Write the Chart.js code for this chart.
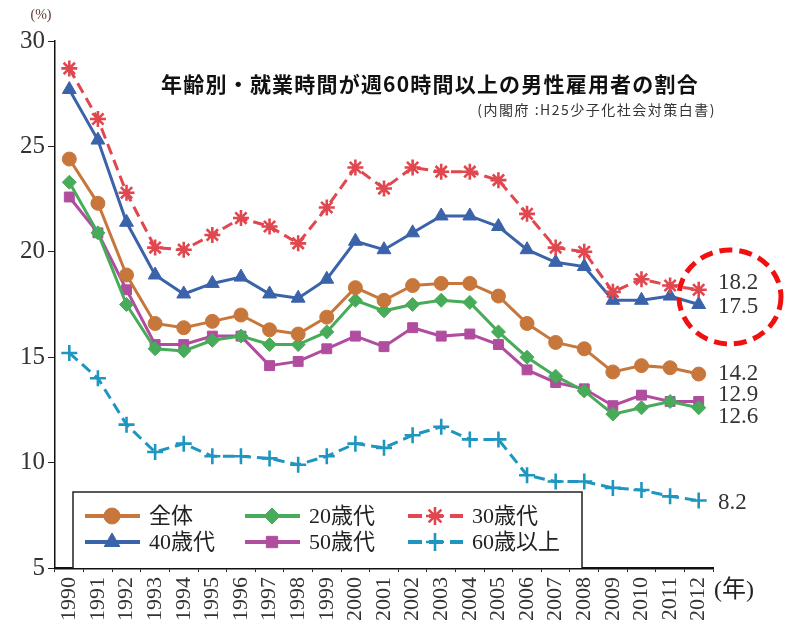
<!DOCTYPE html>
<html>
<head>
<meta charset="utf-8">
<script src="https://cdn.jsdelivr.net/npm/chart.js@4.4.0/dist/chart.umd.min.js"></script>
<style>
  html, body { margin: 0; padding: 0; background: #fff; }
  #wrap { width: 789px; height: 629px; }
</style>
</head>
<body>
<div id="wrap"><canvas id="chart" width="789" height="629"></canvas></div>
<script>
const years = ['1990','1991','1992','1993','1994','1995','1996','1997','1998','1999','2000','2001',
  '2002','2003','2004','2005','2006','2007','2008','2009','2010','2011','2012'];

const zentai = [24.4,22.3,18.9,16.6,16.4,16.7,17.0,16.3,16.1,16.9,18.3,17.7,18.4,18.5,18.5,17.9,16.6,15.7,15.4,14.3,14.6,14.5,14.2];
const age20 = [23.3,20.9,17.5,15.4,15.3,15.8,16.0,15.6,15.6,16.2,17.7,17.2,17.5,17.7,17.6,16.2,15.0,14.1,13.4,12.3,12.6,12.9,12.6];
const age30 = [28.7,26.3,22.8,20.2,20.1,20.8,21.6,21.2,20.4,22.1,24.0,23.0,24.0,23.8,23.8,23.4,21.8,20.2,20.0,18.1,18.7,18.4,18.2];
const age40 = [27.7,25.3,21.4,18.9,18.0,18.5,18.8,18.0,17.8,18.7,20.5,20.1,20.9,21.7,21.7,21.2,20.1,19.5,19.3,17.7,17.7,17.9,17.5];
const age50 = [22.6,20.9,18.2,15.6,15.6,16.0,16.0,14.6,14.8,15.4,16.0,15.5,16.4,16.0,16.1,15.6,14.4,13.8,13.5,12.7,13.2,12.9,12.9];
const age60 = [15.2,14.0,11.8,10.5,10.9,10.3,10.3,10.2,9.9,10.3,10.9,10.7,11.3,11.7,11.1,11.1,9.4,9.1,9.1,8.8,8.7,8.4,8.2];

const seriesNames = ['全体','20歳代','30歳代','40歳代','50歳代','60歳以上'];
const endLabels = ['18.2','17.5','14.2','12.9','12.6','8.2'];
const endLabelValues = [18.5,17.4,14.2,13.2,12.15,8.1];

const titleText = '年齢別・就業時間が週60時間以上の男性雇用者の割合';
const sourceText = '(内閣府 :H25少子化社会対策白書)';

const SERIF = '"Liberation Serif", "DejaVu Serif", "Noto Sans CJK JP", serif';
const SANS = '"Noto Sans CJK JP", sans-serif';

function ds(label, data, color, style, radius, dashed) {
  return {
    label: label,
    data: data,
    borderColor: color,
    backgroundColor: color,
    borderWidth: 3,
    borderDash: dashed ? [11, 6] : [],
    pointStyle: style,
    pointRadius: radius,
    pointBorderWidth: (style === 'star' || style === 'cross') ? 2.6 : 1,
    pointBorderColor: color,
    pointBackgroundColor: color,
    tension: 0
  };
}

const datasets = [
  ds(seriesNames[0], zentai, '#c8773c', 'circle', 7, false),
  ds(seriesNames[1], age20, '#48ab5a', 'rectRot', 7, false),
  ds(seriesNames[2], age30, '#e0474e', 'star', 8, true),
  ds(seriesNames[3], age40, '#3b63a9', 'triangle', 8, false),
  ds(seriesNames[4], age50, '#b04d9f', 'rect', 7, false),
  ds(seriesNames[5], age60, '#1e96bf', 'cross', 8, true)
];

// titles, legend box, end labels, circle
const decor = {
  id: 'decor',
  afterDraw(chart) {
    const ctx = chart.ctx;
    const y = chart.scales.y;
    ctx.save();

    ctx.fillStyle = '#111';
    ctx.font = '600 21px ' + SANS;
    ctx.letterSpacing = '1.2px';
    ctx.textAlign = 'center';
    ctx.textBaseline = 'middle';
    ctx.fillText(titleText, 430, 84);

    ctx.font = '14px ' + SANS;
    ctx.letterSpacing = '1.5px';
    ctx.textAlign = 'right';
    ctx.fillStyle = '#333';
    ctx.fillText(sourceText, 716, 110);
    ctx.letterSpacing = '0px';

    ctx.font = '14px ' + SERIF;
    ctx.textAlign = 'center';
    ctx.fillStyle = '#5a3a30';
    ctx.fillText('(%)', 41, 15);

    ctx.font = '24px ' + SERIF;
    ctx.fillStyle = '#222';
    ctx.textAlign = 'left';
    ctx.fillText('(年)', 714, 591);

    // end labels
    ctx.font = '23px ' + SERIF;
    ctx.fillStyle = '#333';
    endLabels.forEach((t, i) => {
      ctx.fillText(t, 718, y.getPixelForValue(endLabelValues[i]));
    });

    // red dashed ellipse
    ctx.strokeStyle = '#f01010';
    ctx.lineWidth = 5;
    ctx.setLineDash([13, 7]);
    ctx.beginPath();
    ctx.ellipse(730, 297, 51, 47, 0, 0, Math.PI * 2);
    ctx.stroke();
    ctx.setLineDash([]);

    // legend box
    const bx = 73, by = 492, bw = 509, bh = 76;
    ctx.fillStyle = '#fff';
    ctx.fillRect(bx, by, bw, bh);
    ctx.strokeStyle = '#222';
    ctx.lineWidth = 1.5;
    ctx.beginPath();
    ctx.moveTo(bx, by + bh);
    ctx.lineTo(bx, by);
    ctx.lineTo(bx + bw, by);
    ctx.lineTo(bx + bw, by + bh);
    ctx.stroke();

    const cols = [85, 245, 408];
    const rows = [516, 542];
    ctx.font = '22px ' + SERIF;
    ctx.textAlign = 'left';
    ctx.textBaseline = 'middle';
    datasets.forEach((d, i) => {
      const lx = cols[i % 3];
      const ly = rows[Math.floor(i / 3)];
      ctx.strokeStyle = d.borderColor;
      ctx.lineWidth = 4;
      ctx.setLineDash(d.borderDash.length ? [14, 7] : []);
      ctx.beginPath();
      ctx.moveTo(lx, ly);
      ctx.lineTo(lx + 55, ly);
      ctx.stroke();
      ctx.setLineDash([]);
      ctx.fillStyle = d.backgroundColor;
      ctx.lineWidth = d.pointBorderWidth;
      Chart.helpers.drawPoint(ctx, {
        pointStyle: d.pointStyle,
        radius: d.pointRadius + 1,
        rotation: 0,
        borderWidth: d.pointBorderWidth
      }, lx + 27, ly);
      ctx.fillStyle = '#222';
      ctx.fillText(d.label, lx + 64, ly + 1);
    });
    ctx.restore();
  }
};

new Chart(document.getElementById('chart'), {
  type: 'line',
  data: { labels: years, datasets: datasets },
  options: {
    responsive: false,
    animation: false,
    layout: { padding: { top: 41, right: 76, left: 0, bottom: 0 } },
    plugins: {
      legend: { display: false },
      tooltip: { enabled: false }
    },
    scales: {
      x: {
        type: 'category',
        offset: true,
        grid: { display: true, drawOnChartArea: false, drawTicks: true, tickLength: 4, color: '#222', offset: true },
        border: { display: true, color: '#111', width: 2.5 },
        ticks: {
          color: '#333',
          autoSkip: false,
          minRotation: 90,
          maxRotation: 90,
          padding: 5,
          font: { family: SERIF, size: 22 }
        },
        afterFit(scale) { scale.height = 61; }
      },
      y: {
        min: 5,
        max: 30,
        grid: { display: true, drawOnChartArea: false, drawTicks: true, tickLength: 7, color: '#222' },
        border: { display: true, color: '#111', width: 1.5 },
        ticks: {
          stepSize: 5,
          color: '#333',
          padding: 3,
          font: { family: SERIF, size: 25 }
        },
        afterFit(scale) { scale.width = 55; }
      }
    }
  },
  plugins: [decor]
});
</script>
</body>
</html>
